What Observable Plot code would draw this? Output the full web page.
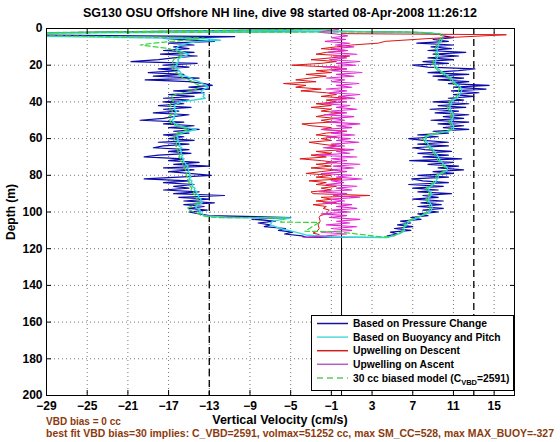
<!DOCTYPE html>
<html><head><meta charset="utf-8">
<script src="https://cdn.jsdelivr.net/npm/d3@7"></script>
<script src="https://cdn.jsdelivr.net/npm/@observablehq/plot@0.6"></script>
<style>body{margin:0;background:#fff}</style>
</head><body><div id="chart"></div>
<script>
// ---- axis ticks & reference lines ----
const xTicks = [-29, -25, -21, -17, -13, -9, -5, -1, 3, 7, 11, 15];
const yTicks = [0, 20, 40, 60, 80, 100, 120, 140, 160, 180, 200];
const zeroLine = [0];
const limitLines = [-13, 13];

// ---- depth sampling (m) ----
const depthDown = [7,8,9,10,11,12,13,14,15,16,17,18,19,20,21,22,23,24,25,26,27,28,29,30,31,32,33,34,35,36,37,38,39,40,41,42,43,44,45,46,47,48,49,50,51,52,53,54,55,56,57,58,59,60,61,62,63,64,65,66,67,68,69,70,71,72,73,74,75,76,77,78,79,80,81,82,83,84,85,86,87,88,89,90,91,92,93,94,95,96,97,98,99,100,101,102];
const depthUp = [113,112,111,110,109,108,107,106,105,104,103,102,101,100,99,98,97,96,95,94,93,92,91,90,89,88,87,86,85,84,83,82,81,80,79,78,77,76,75,74,73,72,71,70,69,68,67,66,65,64,63,62,61,60,59,58,57,56,55,54,53,52,51,50,49,48,47,46,45,44,43,42,41,40,39,38,37,36,35,34,33,32,31,30,29,28,27,26,25,24,23,22,21,20,19,18,17,16,15,14,13,12,11,10,9,8,7,6,5,4];

// ---- Based on Pressure Change (cm/s) ----
const pcTopD = [0.4, 3.2, 4.4, 5.4], pcTopV = [-1.5, -40, -10.5, -17.5];
const pcDown = [-12.5,-17,-14.5,-16.5,-15,-17.5,-14.5,-17.8,-14.2,-16.5,
  -18,-20.7,-14.2,-17.5,-15,-18,-16,-19,-15.5,-18.5,
  -14,-19.3,-15,-13.5,-12.7,-15,-13,-16.5,-13.5,-17,
  -14.5,-17.5,-15,-17.5,-15.5,-18,-14.8,-17.5,-16,-18.5,
  -15,-16.5,-17.5,-19.8,-15.5,-17.5,-14.5,-17,-14,-16.5,
  -15,-17.5,-15.5,-17,-14.5,-18,-15,-17.5,-18.5,-15,
  -17,-14.8,-18,-19.4,-15.5,-17,-14,-16.5,-13,-17.5,
  -14.5,-17,-15,-12.8,-16,-19.4,-15,-17.5,-14.5,-16.5,
  -15,-17.5,-14,-16.5,-11.5,-16,-13,-15.5,-12.5,-15.5,
  -13.5,-15,-13.2,-15,-14,-13];
const pcBotD = [103,104,105,106,107,108,109,110,111,112,113,113.7,113.9];
const pcBotV = [-5,-8.8,-6.5,-8.2,-7,-7.6,-5.5,-6.2,-4.8,-5.6,-3.9,-3.5,4.6];
const pcUp = [4.5,5.5,4.8,6.8,5.2,7,5.5,6.8,5.8,7.8,
  6.8,8.5,7.5,9.5,8,10,7.5,9.8,7.8,10,
  7,9.5,8,10.8,7.5,9.5,7,10,6.6,10.5,
  8,6.9,10.5,7.5,11,9,12,9.5,11.5,8.5,
  11,6.7,11.8,8,10.5,7.5,10.8,8.2,7,10.5,
  7.5,10.5,8,6.6,9.5,7.5,10.5,9,12.5,10,
  12,9.5,12.5,8.8,12,10,12.5,9.2,11.5,8.7,
  12.2,9.5,12.5,9,12,10.5,13,11,13.5,10.8,
  14.2,11,14.5,10.5,12.5,9.5,12,9,12.5,8.5,
  11.5,13.1,8.5,7,10.5,8,11,8.5,11.5,9,
  12.2,8.5,10.8,8.8,11,7.4,10.5,9,11,10];
const pcEndD = [3, 2.2, 1.5, 2.6], pcEndV = [9.5, 8, 0, -40];

// ---- Based on Buoyancy and Pitch ----
const bpTopD = [0.6, 3.4, 5.6, 6.4], bpTopV = [-1, -40, -13.3, -11.9];
const bpDown = [-14,-15,-15.8,-16.1,-16.3,-16.0,-15.5,-15.0,-15.4,-15.9,
  -16.1,-16.0,-16.3,-16.1,-16.4,-16.2,-16.0,-15.8,-15.9,-15.3,
  -14.8,-14.5,-14.0,-13.7,-13.3,-13.1,-13.5,-13.8,-13.7,-13.5,
  -13.6,-13.4,-14.5,-15.8,-16.1,-16.5,-16.3,-16.5,-16.2,-16.4,
  -16.2,-16.5,-16.4,-16.7,-16.5,-16.3,-16.0,-15.2,-14.3,-15.0,
  -15.7,-16.0,-16.2,-16.0,-16.2,-16.0,-15.9,-16.0,-15.7,-15.9,
  -15.7,-15.8,-15.6,-15.8,-15.5,-15.6,-15.4,-15.3,-15.1,-15.2,
  -15.0,-15.1,-14.9,-15.0,-14.8,-15.0,-14.7,-14.8,-14.6,-14.7,
  -14.4,-14.5,-14.2,-14.3,-14.0,-14.1,-13.8,-13.9,-13.7,-14.1,
  -14.4,-14.2,-13.9,-14.0,-13.7,-13.5];
const bpBotD = [103,103.3,105,107,109,111,112.5,113.6,113.9];
const bpBotV = [-11.5,-5,-6.8,-7,-6,-4.5,-3.5,-1,4.5];
const bpUp = [5,5.6,6,6.2,6.1,6.2,6.4,6.5,6.7,7.1,
  7.5,7.9,8.3,8.7,8.8,8.9,8.9,8.8,8.7,8.6,
  8.5,8.6,8.8,8.9,8.7,8.6,8.5,8.8,9.0,9.2,
  9.3,9.4,9.5,9.5,9.8,10.2,10.4,10.4,10.2,10.0,
  9.9,9.7,9.6,9.5,9.4,9.3,9.1,9.0,8.8,8.6,
  8.5,8.4,8.3,8.2,8.4,8.7,9.5,10.5,11.0,11.0,
  11.0,10.9,10.8,10.8,10.9,11.0,11.0,10.9,10.8,10.7,
  10.6,10.7,10.8,10.8,11.0,11.3,11.5,11.6,11.7,11.8,
  11.8,11.7,11.5,11.2,11.0,10.9,10.8,10.5,10.2,10.0,
  9.7,9.5,9.3,9.2,9.2,9.2,9.3,9.4,9.5,9.5,
  9.4,9.4,9.4,9.5,9.5,9.6,9.8,9.9,10.0,10.0];
const bpEndD = [3, 2.3, 1.6, 2.8], bpEndV = [9.6, 8.5, 1, -40];

// ---- Upwelling on Descent ----
const udTopD = [2.8, 3.4, 5.5], udTopV = [0, 16.2, 8.5];
const udDown = [4.3,3.6,1,-0.5,-2,0.5,-1.5,-2.5,0.8,-1,
  -3,-0.5,-2,-4.9,-1,0.5,-2.5,-1,-3.5,-1.5,
  -3,-4.5,-2.5,-5.7,-3.5,-4.5,-2,-4,-1.5,-0.5,
  -2,0.5,-1.5,-0.5,-2.5,-1,-3,-1,-2,0,
  -1.5,-2.5,-0.5,-2,-1,-3.9,-3,-1,-2,0.5,
  -1.5,-2.5,-0.5,-2,-1,-3.2,-2,-0.5,-1.5,0.3,
  -2.5,-1,-3,-1.5,-4.1,-2,-0.5,-2.5,-1,-3,
  -0.5,-2,-3.5,-1,-2.5,0,-3.2,-1.5,-2.5,-0.5,
  -2,-1,-3,-2.8,2.8,-2,-1,-2.5,-0.5,-2.8,
  -1.5,-1.8,-1.2,-1.4,-1.5,-2.1];
const udBotD = [103,105,107,109,110.5,111.5,112.3], udBotV = [-2.2,-2.1,-2.3,-2.2,-2.4,-2.8,-2.2];

// ---- Upwelling on Ascent ----
const uaBotD = [113.8], uaBotV = [-3.8];
const uaUp = [-1.5,0.5,-2,1,-1,1.5,-1.5,0.8,-0.5,1.8,
  -1.2,0.5,-2,0.8,-1,1.5,-0.5,1,-1.8,0.3,
  -1,1.8,-0.8,0.5,-2.2,1,-0.5,1.5,-1.5,0.2,
  -1,2,-0.5,1,-2,0.5,-1,1.2,-0.8,1.8,
  -1.5,0.5,-1,1.5,-2.3,0.8,-0.5,1.2,-1.8,0.3,
  -1,1.7,-0.5,0.8,-1.5,1.3,-1,0.5,-2,1,
  -0.5,1.8,-1.2,0.3,-0.8,1.2,-1.7,0.5,-1,1.5,
  -0.5,0.8,-1.8,0.5,-1,1.3,-0.3,1.8,-1.2,0.5,
  -1.5,1,-0.5,1.7,-1,0.3,-1.5,1.2,-0.5,2,
  -1,0.5,-1.8,1.4,-0.5,1.8,-1.2,0.5,-0.8,1.5,
  -1.3,0.6,-1,1.2,-0.6,0.8,-1.6,0.4,-1,0.6];
const uaEndD = [3, 2, 1, 0.5], uaEndV = [-0.5, -2.2, -1.2, -0.3];

// ---- 30 cc biased model ----
const bmTopD = [0.3, 3.0, 5.2], bmTopV = [-1, -40, -13.5];
const bmDown = [-16.5,-18.5,-19.8,-18.3,-16.9,-16.5,-16.0,-15.6,-15.8,-16.3,
  -16.5,-16.6,-16.6,-16.5,-16.7,-16.6,-16.5,-16.2,-16.0,-15.8,
  -15.6,-15.0,-14.6,-14.4,-14.0,-13.9,-14.3,-14.6,-15.5,-16.3,
  -16.8,-16.6,-16.7,-16.5,-16.8,-16.9,-16.7,-16.9,-16.6,-16.8,
  -16.7,-17.0,-16.8,-16.9,-16.8,-16.6,-16.2,-15.6,-15.0,-15.5,
  -16.1,-16.4,-16.5,-16.4,-16.5,-16.3,-16.2,-16.3,-16.1,-16.2,
  -16.0,-16.1,-15.9,-16.0,-15.8,-15.9,-15.6,-15.6,-15.4,-15.5,
  -15.3,-15.3,-15.2,-15.3,-15.1,-15.2,-15.0,-15.0,-14.9,-14.9,
  -14.7,-14.8,-14.5,-14.6,-14.3,-14.4,-14.1,-14.2,-14.0,-14.4,
  -14.8,-15.2,-14.9,-14.5,-14.0,-13.8];
const bmBotD = [103,103.2,105.5,105.7,110.5,110.8,113.6], bmBotV = [-12.5,-5.5,-6,-2.2,-3.6,-0.3,4];
const bmUp = [5.2,5.4,5.9,6.0,6.0,6.1,6.2,6.3,6.5,6.9,
  7.3,7.8,8.1,8.5,8.6,8.7,8.7,8.6,8.5,8.4,
  8.3,8.4,8.6,8.7,8.5,8.4,8.3,8.6,8.8,9.0,
  9.1,9.2,9.3,9.3,9.6,10.0,10.2,10.2,10.0,9.8,
  9.7,9.5,9.4,9.3,9.2,9.1,8.9,8.8,8.6,8.4,
  8.3,8.2,8.1,8.0,8.2,8.5,9.3,10.3,10.8,10.8,
  10.8,10.7,10.6,10.6,10.7,10.8,10.8,10.7,10.6,10.5,
  10.4,10.5,10.6,10.6,10.8,11.1,11.3,11.4,11.5,11.5,
  11.6,11.5,11.3,11.0,10.8,10.7,10.6,10.3,10.0,9.8,
  9.5,9.3,9.1,9.0,9.0,9.0,9.1,9.2,9.3,9.3,
  9.2,9.2,9.2,9.3,9.3,9.4,9.6,9.7,9.8,9.8];
const bmEndD = [3, 2.2, 1.8, 2.4], bmEndV = [9.7, 8, 6, -40];

// ---- legend / colours ----
const seriesNames = ["Based on Pressure Change", "Based on Buoyancy and Pitch", "Upwelling on Descent", "Upwelling on Ascent", "30 cc biased model (C"];
const seriesColors = ["#0a0aa8", "#33d9d9", "#dd1515", "#e22ad2", "#3ad33a"];
const seriesWidths = [1.2, 1.4, 1, 1.1, 1.2];
const legendColors = ["#14149a", "#55d8d8", "#cc2020", "#b060c0", "#5ccc5c"];

const titleText = "SG130 OSU Offshore NH line, dive 98 started 08-Apr-2008 11:26:12";
const xLabel = "Vertical Velocity (cm/s)";
const yLabel = "Depth (m)";
const note1 = "VBD bias = 0 cc";
const note2 = "best fit VBD bias=30 implies: C_VBD=2591, volmax=51252 cc, max SM_CC=528, max MAX_BUOY=-327";

function rows(parts) {
  const out = [];
  for (const [ds, vs] of parts) ds.forEach((d, i) => out.push({d, v: vs[i]}));
  return out;
}
const pc = rows([[pcTopD, pcTopV], [depthDown, pcDown], [pcBotD, pcBotV], [depthUp, pcUp], [pcEndD, pcEndV]]);
const bp = rows([[bpTopD, bpTopV], [depthDown, bpDown], [bpBotD, bpBotV], [depthUp, bpUp], [bpEndD, bpEndV]]);
const ud = rows([[udTopD, udTopV], [depthDown, udDown], [udBotD, udBotV]]);
const ua = rows([[uaBotD, uaBotV], [depthUp, uaUp], [uaEndD, uaEndV]]);
const bm = rows([[bmTopD, bmTopV], [depthDown, bmDown], [bmBotD, bmBotV], [depthUp, bmUp], [bmEndD, bmEndV]]);

const font = "'Liberation Sans', Arial, Helvetica, sans-serif";
const lineOpts = (i) => ({x: "v", y: "d", stroke: seriesColors[i], strokeWidth: seriesWidths[i], clip: true, strokeLinejoin: "round"});

const chart = Plot.plot({
  width: 560, height: 442,
  marginLeft: 46, marginRight: 46, marginTop: 28, marginBottom: 47,
  x: {domain: [-29, 17]},
  y: {domain: [0, 200], reverse: true},
  style: {fontFamily: font, fontSize: "12px", fontWeight: "bold", background: "white", color: "black", overflow: "visible"},
  marks: [
    Plot.gridX(xTicks, {stroke: "#777", strokeOpacity: 1, strokeDasharray: "1,3"}),
    Plot.gridY(yTicks, {stroke: "#777", strokeOpacity: 1, strokeDasharray: "1,3"}),
    Plot.ruleX(zeroLine, {stroke: "black", strokeWidth: 1}),
    Plot.ruleX(limitLines, {stroke: "black", strokeWidth: 1.3, strokeDasharray: "7,4"}),
    Plot.line(pc, lineOpts(0)),
    Plot.line(bp, lineOpts(1)),
    Plot.line(ud, lineOpts(2)),
    Plot.line(ua, lineOpts(3)),
    Plot.line(bm, {...lineOpts(4), strokeDasharray: "5,3"}),
    Plot.frame({stroke: "black"}),
    Plot.axisX(xTicks, {anchor: "bottom", tickSize: -5, tickPadding: 11, label: null}),
    Plot.axisX(xTicks, {anchor: "top", tickSize: -5, tickFormat: () => "", label: null}),
    Plot.axisY(yTicks, {anchor: "left", tickSize: -5, tickPadding: 9, label: null}),
    Plot.axisY(yTicks, {anchor: "right", tickSize: -5, tickFormat: () => "", label: null})
  ]
});

const svg = d3.select(chart);
const addText = (x, y, str, size, extra = {}) => {
  const t = svg.append("text").attr("x", x).attr("y", y)
    .attr("font-size", size).attr("font-weight", "bold").attr("font-family", font)
    .attr("text-anchor", extra.anchor || "start").attr("fill", extra.fill || "black").text(str);
  if (extra.len) t.attr("textLength", extra.len).attr("lengthAdjust", "spacingAndGlyphs");
  return t;
};
addText(280, 17, titleText, 12.5, {anchor: "middle"});
addText(280, 424, xLabel, 12.5, {anchor: "middle"});
svg.append("text").attr("transform", "translate(15,212) rotate(-90)").attr("text-anchor", "middle")
  .attr("font-size", 12).attr("font-weight", "bold").attr("font-family", font).text(yLabel);
addText(46, 425, note1, 10, {fill: "#8c3a0c"});
addText(46, 437, note2, 10, {fill: "#8c3a0c", len: 508});

// legend
const lg = svg.append("g");
lg.append("rect").attr("x", 311.5).attr("y", 315.5).attr("width", 202).attr("height", 75)
  .attr("fill", "white").attr("stroke", "black");
seriesNames.forEach((name, i) => {
  const y = 323.5 + i * 13.6;
  lg.append("line").attr("x1", 317).attr("x2", 348).attr("y1", y).attr("y2", y)
    .attr("stroke", legendColors[i]).attr("stroke-width", 1.5)
    .attr("stroke-dasharray", i === 4 ? "6,4" : null);
  const t = lg.append("text").attr("x", 353).attr("y", y).attr("dy", "0.35em")
    .attr("text-anchor", "start")
    .attr("font-size", 10.3).attr("font-weight", "bold").attr("font-family", font).text(name);
  if (i === 4) {
    t.append("tspan").attr("font-size", 7.5).attr("dy", "3").text("VBD");
    t.append("tspan").attr("dy", "-3").text("=2591)");
  }
});

document.getElementById("chart").appendChild(chart);
</script></body></html>
